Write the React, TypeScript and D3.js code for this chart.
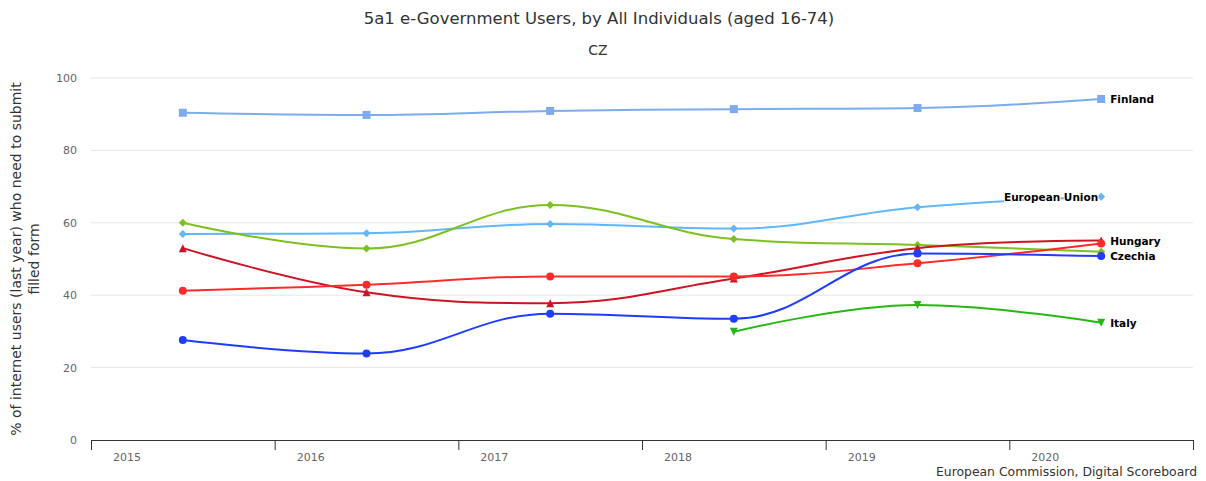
import React from 'react';
import * as d3 from 'd3';

const years = ['2015', '2016', '2017', '2018', '2019', '2020'];
const yTicks = [0, 20, 40, 60, 80, 100];

const finland = [90.4, 89.8, 90.9, 91.4, 91.7, 94.2];
const europeanUnion = [56.9, 57.1, 59.7, 58.4, 64.3, 67.2];
const greenSeries = [60.0, 52.9, 64.9, 55.5, 53.9, 52.0];
const hungary = [53.0, 40.8, 37.8, 44.6, 53.0, 55.1];
const redSeries = [41.2, 42.9, 45.2, 45.2, 48.8, 54.3];
const czechia = [27.6, 23.9, 34.9, 33.5, 51.5, 50.8];
const italy: (number | null)[] = [null, null, null, 29.9, 37.3, 32.4];

type Marker = 'square' | 'diamond' | 'triangle' | 'triangle-down' | 'circle';
interface Series { name: string; values: (number | null)[]; color: string; marker: Marker; label: 'right' | 'left' | 'none'; }

const series: Series[] = [
  { name: 'Finland', values: finland, color: '#7cacee', marker: 'square', label: 'right' },
  { name: 'European Union', values: europeanUnion, color: '#62b6fb', marker: 'diamond', label: 'left' },
  { name: 'Other A', values: greenSeries, color: '#7cc11f', marker: 'diamond', label: 'none' },
  { name: 'Hungary', values: hungary, color: '#cc1424', marker: 'triangle', label: 'right' },
  { name: 'Other B', values: redSeries, color: '#ff2b2b', marker: 'circle', label: 'none' },
  { name: 'Czechia', values: czechia, color: '#1f3dff', marker: 'circle', label: 'right' },
  { name: 'Italy', values: italy, color: '#25b812', marker: 'triangle-down', label: 'right' },
];

const W = 1206, H = 481;
const left = 91, right = 1193, top = 78, bottom = 440;

function splinePath(pts: [number, number][]) {
  const p = d3.path();
  const smoothing = 1.5, denom = smoothing + 1;
  const ctrl: { lx: number; ly: number; rx: number; ry: number }[] = pts.map(([x, y], i) => {
    if (i === 0 || i === pts.length - 1) return { lx: x, ly: y, rx: x, ry: y };
    const [lastX, lastY] = pts[i - 1];
    const [nextX, nextY] = pts[i + 1];
    const lx = (smoothing * x + lastX) / denom;
    let ly = (smoothing * y + lastY) / denom;
    const rx = (smoothing * x + nextX) / denom;
    let ry = (smoothing * y + nextY) / denom;
    if (rx !== lx) {
      const corr = ((ry - ly) * (rx - x)) / (rx - lx) + y - ry;
      ly += corr; ry += corr;
    }
    if (ly > lastY && ly > y) { ly = Math.max(lastY, y); ry = 2 * y - ly; }
    else if (ly < lastY && ly < y) { ly = Math.min(lastY, y); ry = 2 * y - ly; }
    if (ry > nextY && ry > y) { ry = Math.max(nextY, y); ly = 2 * y - ry; }
    else if (ry < nextY && ry < y) { ry = Math.min(nextY, y); ly = 2 * y - ry; }
    return { lx, ly, rx, ry };
  });
  pts.forEach(([x, y], i) => {
    if (i === 0) p.moveTo(x, y);
    else p.bezierCurveTo(ctrl[i - 1].rx, ctrl[i - 1].ry, ctrl[i].lx, ctrl[i].ly, x, y);
  });
  return p.toString();
}

function markerPath(m: Marker, x: number, y: number) {
  const r = 4;
  switch (m) {
    case 'square': return `M${x - r},${y - r}h${2 * r}v${2 * r}h${-2 * r}Z`;
    case 'diamond': return `M${x},${y - r}L${x + r},${y}L${x},${y + r}L${x - r},${y}Z`;
    case 'triangle': return `M${x},${y - r}L${x + r},${y + r}L${x - r},${y + r}Z`;
    case 'triangle-down': return `M${x - r},${y - r}L${x + r},${y - r}L${x},${y + r}Z`;
    default: return '';
  }
}

export default function App() {
  const x = d3.scaleBand<string>().domain(years).range([left, right]).padding(0);
  const y = d3.scaleLinear().domain([0, 100]).range([bottom, top]);
  const cx = (yr: string) => (x(yr) as number) + x.bandwidth() / 2;
  const font = "'DejaVu Sans', sans-serif";

  const boundaries = [...years.map((yr) => x(yr) as number), right];

  return (
    <svg width={W} height={H} style={{ position: 'absolute', left: 0, top: 0 }} fontFamily={font}>
      <rect width={W} height={H} fill="#fff" />
      <text x={599} y={24} textAnchor="middle" fontSize={16.5} fill="#333">5a1 e-Government Users, by All Individuals (aged 16-74)</text>
      <text x={598} y={55} textAnchor="middle" fontSize={14} fill="#333">CZ</text>

      {yTicks.filter((t) => t > 0).map((t) => (
        <line key={t} x1={left} x2={right} y1={y(t)} y2={y(t)} stroke="#e6e6e6" strokeWidth={1} />
      ))}
      {yTicks.map((t) => (
        <text key={t} x={77} y={y(t) + 4} textAnchor="end" fontSize={11} fill="#666">{t}</text>
      ))}
      <g transform={`translate(21,${(top + bottom) / 2}) rotate(-90)`}>
        <text x={0} y={0} textAnchor="middle" fontSize={14} fill="#333">% of internet users (last year) who need to submit</text>
        <text x={0} y={18} textAnchor="middle" fontSize={14} fill="#333">filled form</text>
      </g>

      <line x1={left} x2={right} y1={bottom + 0.5} y2={bottom + 0.5} stroke="#333" strokeWidth={1} />
      {boundaries.map((b, i) => (
        <line key={i} x1={b + 0.5} x2={b + 0.5} y1={bottom} y2={bottom + 10} stroke="#333" strokeWidth={1} />
      ))}
      {years.map((yr) => (
        <text key={yr} x={(x(yr) as number) + 36} y={461} textAnchor="middle" fontSize={11} fill="#666">{yr}</text>
      ))}

      {series.map((s) => {
        const pts: [number, number][] = [];
        s.values.forEach((v, i) => { if (v !== null) pts.push([cx(years[i]), y(v)]); });
        return (
          <g key={s.name}>
            <path d={splinePath(pts)} fill="none" stroke={s.color} strokeWidth={2} strokeLinejoin="round" strokeLinecap="round" />
            {pts.map(([px, py], i) => s.marker === 'circle'
              ? <circle key={i} cx={px} cy={py} r={4} fill={s.color} />
              : <path key={i} d={markerPath(s.marker, px, py)} fill={s.color} />)}
          </g>
        );
      })}

      {series.filter((s) => s.label !== 'none').map((s) => {
        const i = s.values.length - 1;
        const v = s.values[i] as number;
        const px = cx(years[i]);
        const py = y(v);
        const isLeft = s.label === 'left';
        return (
          <text key={s.name} x={isLeft ? px - 3 : px + 9} y={py + 4} textAnchor={isLeft ? 'end' : 'start'}
            fontSize={10.5} fontWeight="bold" fill="#000" stroke="#fff" strokeWidth={2} paintOrder="stroke" strokeLinejoin="round">{s.name}</text>
        );
      })}

      <text x={1197} y={476} textAnchor="end" fontSize={12.4} fill="#333">European Commission, Digital Scoreboard</text>
    </svg>
  );
}
